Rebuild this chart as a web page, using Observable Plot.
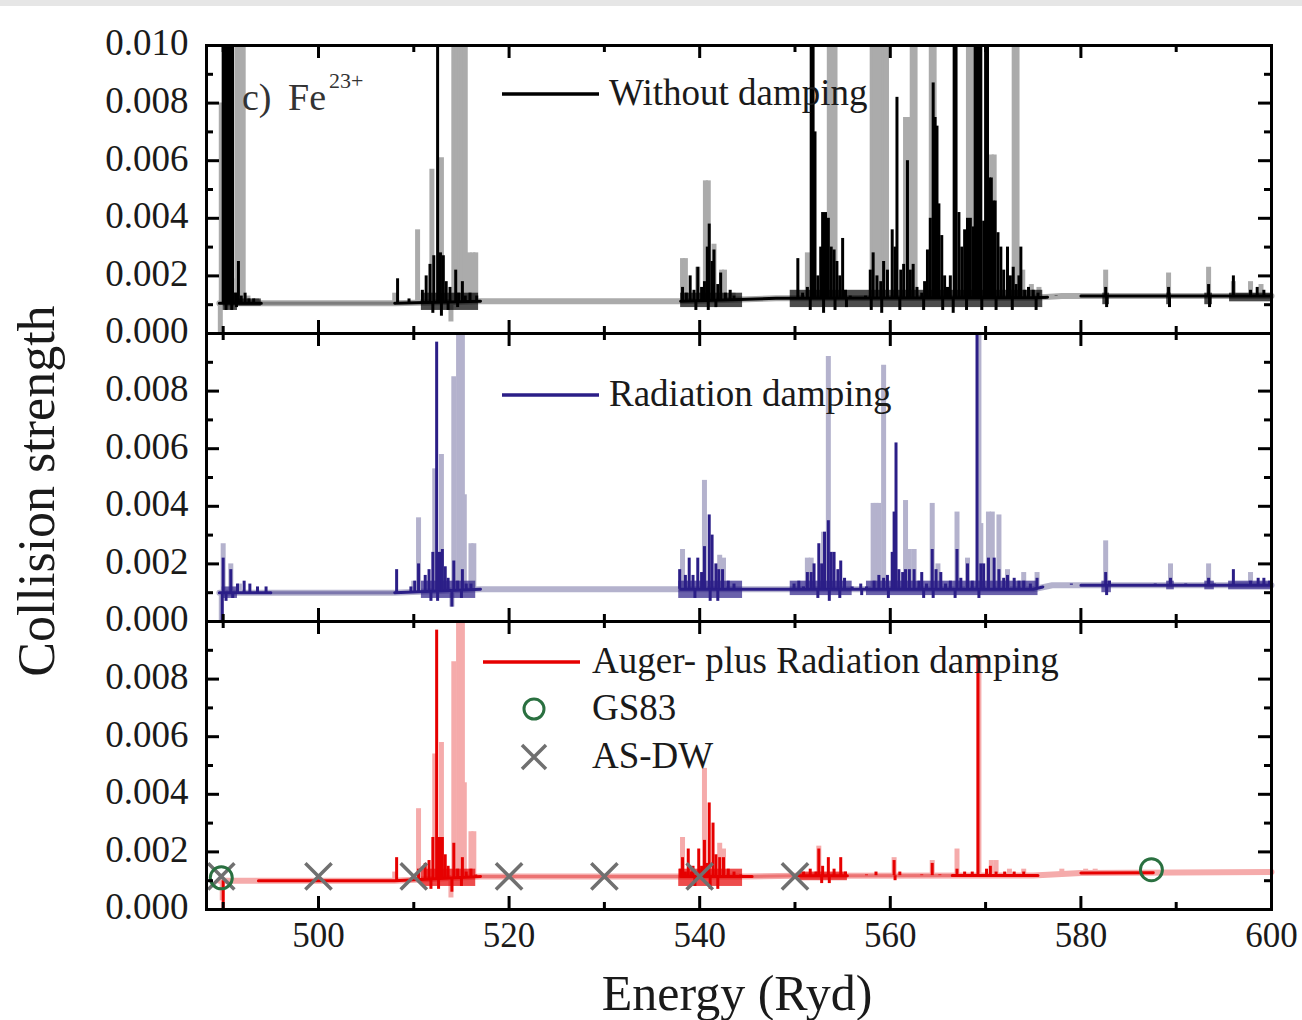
<!DOCTYPE html>
<html><head><meta charset="utf-8">
<script src="https://cdn.jsdelivr.net/npm/d3@7"></script>
<script src="https://cdn.jsdelivr.net/npm/@observablehq/plot@0.6"></script>
<style>
html,body{margin:0;padding:0;background:#fff;}
#wrap{position:relative;width:1302px;height:1020px;overflow:hidden;background:#fff;}
#topband{position:absolute;left:0;top:0;width:1302px;height:6px;background:#e6e6e6;z-index:3}
#chart{position:absolute;left:0;top:0}
#overlay{position:absolute;left:0;top:0;z-index:2;pointer-events:none}
</style></head><body>
<div id="wrap"><div id="chart"></div><svg id="overlay" width="1302" height="1020"></svg><div id="topband"></div></div>
<script>
// ---------- DATA (energy in Ryd, collision strength) ----------
const panelKeys = ["noDamp", "radDamp", "augerRad"];
const seriesNames = ["Without damping", "Radiation damping", "Auger- plus Radiation damping"];

const xTickValues = [500, 520, 540, 560, 580, 600];
const xTickLabels = ["500", "520", "540", "560", "580", "600"];
const yTickValues = [0, 0.002, 0.004, 0.006, 0.008, 0.010];
const yTickLabels = ["0.000", "0.002", "0.004", "0.006", "0.008", "0.010"];

// Panel (c) top: without damping
const noDampBase = [[489.6,0.00105],[508,0.00105],[517,0.00112],[538,0.00112],[548,0.00122],[575,0.00124],[578,0.0013],[600,0.0013]];
const noDampDarkBase = [[489.6,0.00105],[494,0.00105],[494,null],[508,0.00105],[517,0.00112],[517,null],[538,0.00112],[548,0.00122],[575,0.00124],[576.5,0.00126],[576.5,null],[580,0.0013],[600,0.0013]];
const noDampMidBase = [[494,0.00105],[508,0.00105]];
// dense oscillation bands inside resonance clusters: [from, to, low, high]
const noDampEnv = [[490.0,491.5,0.0008,0.0014],[491.5,494.0,0.00095,0.0012],[510.8,516.8,0.0008,0.0014],[538.0,544.5,0.0009,0.0014],[549.5,576.0,0.0009,0.0015],[582.3,583.0,0.0010,0.0014],[589.0,589.5,0.0010,0.0014],[593.0,593.8,0.0010,0.0014],[595.6,600,0.0011,0.0014]];
const noDampDark = [
 [490.0,0.0101],[490.2,0.0101],[490.4,0.0101],[490.6,0.0101],[490.8,0.0101],[491.0,0.0101],[490.3,0.0008],[490.9,0.0008],[491.4,0.0009],
 [491.3,0.0014],[491.6,0.0025],[491.9,0.0013],[492.3,0.0014],[492.7,0.0012],[493.2,0.0012],
 [508.3,0.0019],[509.5,0.0012],[510.9,0.0015],[511.3,0.0020],[511.7,0.0024],[512.1,0.0027],[512.5,0.0101],[512.8,0.0028],[513.1,0.0027],[513.4,0.0018],[513.8,0.0016],[514.4,0.0022],[514.7,0.0014],[515.1,0.0018],[515.4,0.0013],[515.9,0.0014],[516.6,0.0013],
 [512.0,0.0007],[512.9,0.0006],[513.6,0.0008],[514.6,0.0009],
 [538.2,0.0016],[538.6,0.0014],[539.0,0.0020],[539.4,0.0015],[539.8,0.0023],[540.2,0.0016],[540.5,0.0018],[540.8,0.0030],[541.0,0.0038],[541.3,0.0025],[541.5,0.0029],[541.9,0.0017],[542.2,0.0021],[542.7,0.0014],[543.2,0.0015],[543.6,0.0013],[544.2,0.0012],
 [539.6,0.0008],[540.9,0.0008],[541.7,0.0009],
 [550.3,0.0026],[550.8,0.0014],[551.3,0.0016],[551.7,0.0101],[551.9,0.0101],[552.1,0.0070],[552.4,0.0020],[552.7,0.0030],[552.9,0.0042],[553.2,0.0042],[553.5,0.0040],[553.8,0.0030],[554.1,0.0029],[554.4,0.0025],[554.7,0.0020],[555.0,0.0033],[555.3,0.0015],[555.8,0.0013],[556.5,0.0012],[557.4,0.0013],
 [557.9,0.0022],[558.2,0.0028],[558.6,0.0020],[559.0,0.0018],[559.3,0.0025],[559.7,0.0022],[560.2,0.0036],[560.5,0.0030],[560.7,0.0082],[561.1,0.0022],[561.4,0.0024],[561.8,0.0060],[562.1,0.0022],[562.4,0.0024],[562.8,0.0016],[563.3,0.0014],[563.6,0.0018],[563.9,0.0029],
 [564.2,0.0040],[564.5,0.0087],[564.7,0.0075],[564.9,0.0072],[565.1,0.0045],[565.4,0.0034],[565.7,0.0020],[566.0,0.0016],[566.3,0.0020],[566.7,0.0101],[566.9,0.0101],[567.2,0.0042],[567.5,0.0030],[567.8,0.0036],[568.1,0.0040],[568.4,0.0040],[568.7,0.0037],
 [568.9,0.0101],[569.1,0.0101],[569.3,0.0101],[569.5,0.0101],[569.8,0.0039],[570.0,0.0101],[570.2,0.0101],[570.4,0.0054],[570.6,0.0054],[570.8,0.0046],[571.0,0.0046],[571.3,0.0035],[571.6,0.0030],[571.9,0.0022],[572.3,0.0030],[572.6,0.0020],[572.9,0.0023],[573.2,0.0017],[573.5,0.0020],[573.7,0.0030],[574.1,0.0015],[574.5,0.0016],[575.0,0.0015],[575.5,0.0014],[576.2,0.0012],[577.4,0.0013],
 [582.6,0.0016],[589.2,0.0016],[591.4,0.0013],[593.4,0.0017],[596.0,0.0020],[597.8,0.0015],[598.5,0.0016],[599.2,0.0015],
 [551.6,0.0008],[553.0,0.0007],[554.2,0.0008],[555.4,0.0009],[558.0,0.0008],[559.1,0.0007],[561.0,0.0008],[563.5,0.0008],[565.5,0.0008],[566.6,0.0007],[568.0,0.0008],[569.6,0.0008],[571.1,0.0008],[572.8,0.0008],[575.3,0.0008],[582.7,0.0009],[589.3,0.0009],[593.5,0.0009]
];
const noDampLight = [
 [489.7,0.0],[489.8,0.0080],[490.9,0.0019],[491.5,0.0101],[491.8,0.0101],[492.1,0.0101],[492.6,0.0013],[493.5,0.0012],
 [508.0,0.0014],[510.4,0.0036],[511.9,0.0057],[512.9,0.0061],[513.9,0.0004],[514.2,0.0101],[514.5,0.0101],[514.8,0.0101],[515.1,0.0101],[515.4,0.0101],[515.8,0.0028],[516.2,0.0028],[516.5,0.0028],
 [538.2,0.0026],[538.5,0.0026],[539.8,0.0023],[540.6,0.0053],[540.9,0.0053],[541.5,0.0031],[542.3,0.0022],[542.6,0.0022],[543.5,0.0014],
 [551.3,0.0028],[553.6,0.0101],[553.9,0.0101],[554.2,0.0101],[558.1,0.0101],[558.4,0.0101],[558.7,0.0101],[559.0,0.0101],[559.3,0.0101],[559.6,0.0101],[561.6,0.0075],[561.9,0.0075],[562.3,0.0101],[562.6,0.0101],[564.3,0.0101],[564.6,0.0101],
 [568.2,0.0101],[568.5,0.0101],[570.6,0.0062],[570.9,0.0062],[573.0,0.0101],[573.3,0.0101],[573.9,0.0022],[574.8,0.0017],[575.6,0.0016],
 [582.6,0.0022],[589.2,0.0021],[593.4,0.0023],[596.0,0.0018],[597.8,0.0018],[598.9,0.0017]
];

// Middle: radiation damping
const radDampBase = [[489.6,0.0010],[508,0.0010],[517,0.00112],[575,0.00112],[577,0.00126],[600,0.00126]];
const radDampDarkBase = [[489.6,0.0010],[495,0.0010],[495,null],[508,0.0010],[517,0.00112],[517,null],[538,0.00112],[575,0.00112],[576,0.0012],[576,null],[580,0.00126],[600,0.00126]];
const radDampMidBase = [[495,0.0010],[508,0.0010]];
const radDampEnv = [[489.9,491.5,0.0008,0.0012],[510.8,516.5,0.0008,0.0014],[537.8,544.5,0.0008,0.0014],[549.5,556.0,0.0009,0.0014],[557.5,575.5,0.0009,0.0014],[582.2,583.2,0.0010,0.0014],[589.0,589.8,0.0011,0.0014],[593.0,594.0,0.0011,0.0014],[595.5,600,0.0011,0.0014]];
const radDampDark = [
 [489.9,0.0],[490.0,0.0022],[490.3,0.0007],[490.8,0.0018],[491.0,0.0008],[491.5,0.0013],[492.2,0.0014],[492.8,0.0013],[493.6,0.0012],[494.5,0.0012],
 [508.2,0.0018],[509.7,0.0012],[510.1,0.0014],[510.5,0.0020],[511.2,0.0016],[511.6,0.0018],[511.8,0.0007],[512.0,0.0024],[512.4,0.0097],[512.5,0.0007],[512.7,0.0024],[513.0,0.0025],[513.3,0.0019],[513.6,0.0015],[514.0,0.0005],[514.2,0.0021],[514.6,0.0014],[515.0,0.0008],[515.1,0.0018],[515.5,0.0013],[516.0,0.0013],
 [537.9,0.0018],[538.5,0.0016],[538.9,0.0022],[539.3,0.0016],[539.5,0.0008],[539.8,0.0022],[540.2,0.0017],[540.5,0.0026],[541.0,0.0037],[541.1,0.0007],[541.3,0.0030],[541.7,0.0020],[541.9,0.0007],[542.0,0.0018],[542.4,0.0018],[543.0,0.0014],[543.6,0.0013],
 [549.9,0.0013],[550.4,0.0014],[550.9,0.0012],[551.3,0.0017],[551.7,0.0017],[552.0,0.0020],[552.4,0.0008],[552.5,0.0027],[552.8,0.0020],[553.1,0.0031],[553.5,0.0035],[553.6,0.0007],[553.8,0.0024],[554.1,0.0024],[554.5,0.0018],[554.7,0.0008],[554.8,0.0021],[555.2,0.0015],[556.0,0.0012],[556.9,0.0013],[557.0,0.0009],[557.5,0.0012],
 [558.3,0.0014],[558.8,0.0016],[559.3,0.0015],[559.7,0.0016],[559.8,0.0008],[560.2,0.0024],[560.4,0.0038],[560.6,0.0062],[560.9,0.0018],[561.3,0.0017],[561.6,0.0018],[562.0,0.0018],[562.5,0.0018],[563.0,0.0014],[563.3,0.0017],[563.5,0.0008],[563.8,0.0013],
 [564.4,0.0025],[564.5,0.0008],[564.8,0.0018],[565.3,0.0017],[565.8,0.0013],[566.3,0.0014],[566.8,0.0008],[567.0,0.0025],[567.4,0.0015],[568.1,0.0020],[568.6,0.0014],[569.1,0.0101],[569.3,0.0008],[569.5,0.0020],[569.8,0.0020],[570.3,0.0022],[570.9,0.0022],[571.4,0.0018],[571.9,0.0015],[572.3,0.0016],[573.0,0.0015],[573.5,0.0014],[574.0,0.0014],[574.7,0.0013],[575.4,0.0015],[576.0,0.0012],[579.0,0.0013],
 [582.6,0.0017],[582.7,0.0009],[583.0,0.0014],[587.8,0.0013],[589.4,0.0015],[591.0,0.0013],[593.4,0.0015],[594.0,0.0013],[596.0,0.0018],[597.8,0.0014],[598.6,0.0015],[599.2,0.0015],[599.8,0.0014]
];
const radDampLight = [
 [489.8,0.0],[490.0,0.0027],[490.8,0.0020],[491.7,0.0013],
 [510.0,0.0014],[510.5,0.0036],[512.2,0.0053],[512.9,0.0058],[514.0,0.0005],[514.2,0.0085],[514.7,0.0101],[514.9,0.0101],[515.1,0.0101],[515.3,0.0044],[516.0,0.0027],[516.3,0.0027],
 [538.2,0.0025],[540.5,0.0049],[542.1,0.0023],[542.5,0.0022],
 [551.3,0.0022],[551.7,0.0022],[553.0,0.0031],[553.5,0.0092],[558.2,0.0041],[558.5,0.0041],[558.8,0.0041],[559.3,0.0089],[561.6,0.0042],[562.0,0.0025],[562.5,0.0025],[564.4,0.0041],[565.0,0.0020],[567.0,0.0038],[568.1,0.0022],[569.3,0.0101],[569.5,0.0034],[570.3,0.0038],[570.7,0.0038],[571.4,0.0037],[572.3,0.0018],[574.0,0.0017],[575.4,0.0017],
 [582.6,0.0028],[589.4,0.0020],[593.4,0.0020],[597.8,0.0017]
];

// Bottom: Auger- plus radiation damping
const augerRadBase = [[489.6,0.0010],[508,0.0010],[517,0.00115],[545,0.00115],[550,0.00117],[575,0.00118],[580,0.00127],[600,0.0013]];
const augerRadDarkBase = [[493.7,0.0010],[508,0.0010],[517,0.00115],[517,null],[538,0.00115],[545.5,0.00115],[545.5,null],[550,0.00117],[555.5,0.00117],[555.5,null],[566.5,0.00118],[575.5,0.00118],[575.5,null],[580,0.00127],[587.6,0.00128]];
const augerRadMidBase = [[517,0.00115],[538,0.00115],[538,null],[545.5,0.00115],[550,0.00117],[550,null],[555.5,0.00117],[566.5,0.00118]];
const augerRadEnv = [[510.8,516.5,0.0008,0.0014],[537.8,544.5,0.0008,0.0014],[550.5,555.5,0.0010,0.0013]];
const augerRadDark = [
 [490.0,0.0],
 [508.2,0.0018],[510.0,0.0012],[510.5,0.0014],[511.2,0.0016],[511.6,0.0017],[511.8,0.0007],[512.0,0.0025],[512.4,0.0097],[512.6,0.0007],[512.7,0.0025],[513.0,0.0025],[513.3,0.0019],[513.6,0.0015],[514.0,0.0006],[514.2,0.0023],[514.6,0.0014],[515.0,0.0008],[515.1,0.0018],[515.5,0.0013],[516.0,0.0014],[516.5,0.0012],
 [538.0,0.0014],[538.2,0.0018],[538.5,0.0013],[538.8,0.0021],[539.1,0.0013],[539.3,0.0015],[539.5,0.0008],[539.9,0.0021],[540.2,0.0015],[540.5,0.0024],[540.8,0.0016],[541.0,0.0037],[541.1,0.0007],[541.4,0.0030],[541.7,0.0019],[541.9,0.0007],[542.1,0.0018],[542.5,0.0018],[543.0,0.0014],[543.6,0.0013],[544.3,0.0012],
 [550.9,0.0013],[551.6,0.0014],[552.2,0.0013],[552.5,0.0021],[552.8,0.0009],[552.9,0.0015],[553.5,0.0018],[553.6,0.0009],[554.1,0.0014],[554.8,0.0018],[555.3,0.0013],[557.5,0.0012],[558.5,0.0013],[560.4,0.0017],[560.5,0.0010],[561.0,0.0013],[563.3,0.0012],[564.4,0.0016],[565.2,0.0012],
 [567.0,0.0014],[567.8,0.0013],[568.6,0.0013],[569.2,0.0088],[570.1,0.0014],[570.5,0.0015],[571.1,0.0013],[572.0,0.0013],[573.0,0.0013],[574.0,0.0013]
];
const augerRadLight = [
 [489.9,0.0003],[508.0,0.0013],[510.5,0.0035],[512.2,0.0054],[512.9,0.0058],[513.9,0.0004],[514.2,0.0086],[514.7,0.0101],[514.9,0.0101],[515.1,0.0101],[515.3,0.0044],[516.0,0.0027],[516.3,0.0027],
 [538.2,0.0025],[540.5,0.0049],[542.1,0.0023],[542.5,0.0021],
 [552.5,0.0022],[560.4,0.0018],[564.4,0.0017],[567.0,0.0021],[569.3,0.0088],[570.6,0.0017],[571.1,0.0017],[572.5,0.0014],[574.0,0.0014],[578.0,0.0014],[580.5,0.0014],[581.5,0.0014]
];

// Comparison data (bottom panel)
const gs83 = [[489.8,0.0011],[587.4,0.00138]];
const asdw = [[489.8,0.00115],[500,0.00115],[510,0.00115],[520,0.00115],[530,0.00115],[540,0.00115],[550,0.00115]];

// ---------- STYLES ----------
const styles = {
  noDamp:   {dark:"#000000", mid:"#7d7d7d", light:"#ababab"},
  radDamp:  {dark:"#2b1e87", mid:"#7c77ad", light:"#b4b2cd"},
  augerRad: {dark:"#e60000", mid:"#ec7373", light:"#f5abab"}
};
const panels = [
  {key:"noDamp", base:noDampBase, darkBase:noDampDarkBase, midBase:noDampMidBase, env:noDampEnv, dark:noDampDark, light:noDampLight},
  {key:"radDamp", base:radDampBase, darkBase:radDampDarkBase, midBase:radDampMidBase, env:radDampEnv, dark:radDampDark, light:radDampLight},
  {key:"augerRad", base:augerRadBase, darkBase:augerRadDarkBase, midBase:augerRadMidBase, env:augerRadEnv, dark:augerRadDark, light:augerRadLight}
];

const FONT = "Liberation Serif";
const W = 1302, H = 1020, mL = 206, mR = 31, mT = 45, mB = 111;
const FW = W - mL - mR, FH = (H - mT - mB) / 3;

function lineRows(panel, pts) { return pts.map(([e, v]) => ({panel, e, v})); }
function spikeRows(panel, pts, knots) {
  const base = d3.scaleLinear().domain(knots.map(d => d[0])).range(knots.map(d => d[1])).clamp(true);
  return pts.map(([e, v]) => ({panel, e, v, b: base(e)}));
}
function envRows(panel, env) { return env.map(([e1, e2, lo, hi]) => ({panel, e1, e2, lo, hi})); }

const marks = [];
for (const p of panels) {
  const s = styles[p.key];
  marks.push(Plot.line(lineRows(p.key, p.base), {x:"e", y:"v", fy:"panel", stroke:s.light, strokeWidth:6}));
  marks.push(Plot.ruleX(spikeRows(p.key, p.light, p.base), {x:"e", y1:"b", y2:"v", fy:"panel", stroke:s.light, strokeWidth:5}));
  marks.push(Plot.line(lineRows(p.key, p.midBase), {x:"e", y:"v", fy:"panel", stroke:s.mid, strokeWidth:3}));
  marks.push(Plot.line(lineRows(p.key, p.darkBase), {x:"e", y:"v", fy:"panel", stroke:s.dark, strokeWidth:3}));
  marks.push(Plot.rect(envRows(p.key, p.env), {x1:"e1", x2:"e2", y1:"lo", y2:"hi", fy:"panel", fill:s.dark, fillOpacity:0.7}));
  marks.push(Plot.ruleX(spikeRows(p.key, p.dark, p.base), {x:"e", y1:"b", y2:"v", fy:"panel", stroke:s.dark, strokeWidth:3}));
}
marks.push(Plot.dot(asdw.map(([e, v]) => ({panel:"augerRad", e, v})), {x:"e", y:"v", fy:"panel", symbol:"times", r:12, stroke:"#707070", strokeWidth:3.5}));
marks.push(Plot.dot(gs83.map(([e, v]) => ({panel:"augerRad", e, v})), {x:"e", y:"v", fy:"panel", symbol:"circle", r:11, stroke:"#2a7040", strokeWidth:3, fill:"none"}));

// ticks (inward), repeated in every panel
const xMajor = xTickValues.filter(v => v < 600), xMinor = [490, 510, 530, 550, 570, 590];
const yMajor = [0.002, 0.004, 0.006, 0.008], yMinor = [0.001, 0.003, 0.005, 0.007, 0.009];
marks.push(Plot.tickX(xMajor, {x:d => d, insetTop:FH - 13, stroke:"#000", strokeWidth:3}));
marks.push(Plot.tickX(xMajor, {x:d => d, insetBottom:FH - 13, stroke:"#000", strokeWidth:3}));
marks.push(Plot.tickX(xMinor, {x:d => d, insetTop:FH - 7, stroke:"#000", strokeWidth:3}));
marks.push(Plot.tickX(xMinor, {x:d => d, insetBottom:FH - 7, stroke:"#000", strokeWidth:3}));
marks.push(Plot.tickY(yMajor, {y:d => d, insetRight:FW - 13, stroke:"#000", strokeWidth:3}));
marks.push(Plot.tickY(yMajor, {y:d => d, insetLeft:FW - 13, stroke:"#000", strokeWidth:3}));
marks.push(Plot.tickY(yMinor, {y:d => d, insetRight:FW - 7, stroke:"#000", strokeWidth:3}));
marks.push(Plot.tickY(yMinor, {y:d => d, insetLeft:FW - 7, stroke:"#000", strokeWidth:3}));
marks.push(Plot.frame({stroke:"#000", strokeWidth:3}));

// tick labels
const yLabelRows = [];
panelKeys.forEach((k, i) => yTickValues.forEach((v, j) => {
  if (i === 0 || v < 0.0095) yLabelRows.push({panel:k, v, label:yTickLabels[j]});
}));
marks.push(Plot.text(yLabelRows, {y:"v", text:"label", fy:"panel", frameAnchor:"left", dx:-18, dy:-2, textAnchor:"end", fontSize:37, fill:"#1a1a1a"}));
marks.push(Plot.text(xTickValues, {x:d => d, text:(d, i) => xTickLabels[i], fy:() => "augerRad", frameAnchor:"bottom", dy:37, fontSize:35, fill:"#1a1a1a"}));

const chart = Plot.plot({
  width:W, height:H, marginLeft:mL, marginRight:mR, marginTop:mT, marginBottom:mB,
  x:{domain:[488.25, 600], axis:null},
  y:{domain:[0, 0.010], axis:null, clamp:true},
  fy:{domain:panelKeys, padding:0, axis:null},
  style:{fontFamily:FONT, background:"white", overflow:"visible"},
  marks
});
document.getElementById("chart").appendChild(chart);

// ---------- overlay: legends, panel label, axis titles ----------
const ov = d3.select("#overlay").style("font-family", FONT);
function txt(x, y, s, size, opts = {}) {
  const t = ov.append("text").attr("x", x).attr("y", y).attr("font-size", size).attr("fill", opts.fill || "#1a1a1a").text(s);
  if (opts.anchor) t.attr("text-anchor", opts.anchor);
  if (opts.transform) t.attr("transform", opts.transform);
  return t;
}
function hline(x1, x2, y, color) {
  ov.append("line").attr("x1", x1).attr("x2", x2).attr("y1", y).attr("y2", y).attr("stroke", color).attr("stroke-width", 3.5);
}
hline(502, 599, 94, styles.noDamp.dark);   txt(609, 105, seriesNames[0], 37);
hline(502, 599, 395, styles.radDamp.dark); txt(609, 406, seriesNames[1], 37);
hline(483, 580, 662, styles.augerRad.dark); txt(592, 673, seriesNames[2], 37);
ov.append("circle").attr("cx", 534).attr("cy", 709).attr("r", 10).attr("fill", "none").attr("stroke", "#2a7040").attr("stroke-width", 3);
txt(592, 720, "GS83", 37);
ov.append("path").attr("d", "M522,745L546,769M546,745L522,769").attr("stroke", "#707070").attr("stroke-width", 3.5);
txt(592, 768, "AS-DW", 37);

// panel label
txt(242, 110, "c)", 38, {fill:"#333"});
txt(288, 110, "Fe", 38, {fill:"#333"});
txt(329, 88, "23+", 22, {fill:"#333"});

// axis titles
txt(737, 1010, "Energy (Ryd)", 50, {anchor:"middle"});
txt(0, 0, "Collision strength", 52, {anchor:"middle", transform:"translate(54,491) rotate(-90)"});
</script>
</body></html>
